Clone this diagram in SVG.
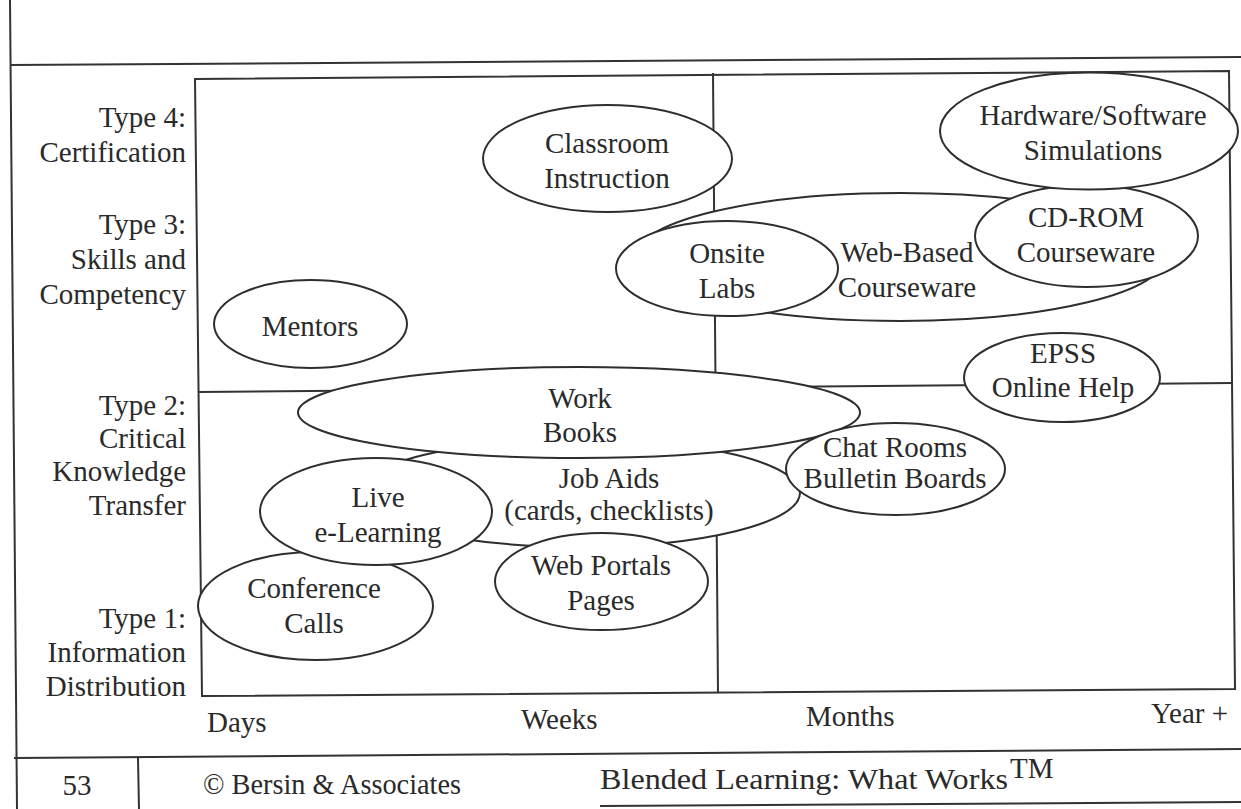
<svg xmlns="http://www.w3.org/2000/svg" width="1241" height="809" viewBox="0 0 1241 809">
<style>
  .t { font-family: "Liberation Serif", "Times New Roman", serif; font-size: 29px; fill: #2a2a2a; }
  .m { text-anchor: middle; }
  .e { text-anchor: end; }
  .n { fill: #fff; stroke: #2e2e2e; stroke-width: 2; }
  .ln { stroke: #333; stroke-width: 2; fill: none; }
</style>
<rect x="0" y="0" width="1241" height="809" fill="#fff"/>
<g id="page">
  <line class="ln" x1="10" y1="0" x2="17" y2="809"/>
  <line class="ln" x1="10" y1="65" x2="1241" y2="57" stroke-width="2.8"/>
  <line class="ln" x1="14" y1="758" x2="1241" y2="749" stroke-width="2.5"/>
  <line class="ln" x1="138" y1="758" x2="139" y2="809"/>
  <line class="ln" x1="600" y1="806" x2="1241" y2="802" stroke-width="1.5"/>
</g>
<g id="frame">
  <polygon class="ln" points="195,79 1229,71 1235,689 202,696"/>
  <line class="ln" x1="713" y1="73" x2="718" y2="693"/>
  <line class="ln" x1="198" y1="392" x2="1232" y2="383"/>
</g>
<g id="axis-labels">
  <text class="t e" x="186" y="127">Type 4:</text>
  <text class="t e" x="186" y="162">Certification</text>
  <text class="t e" x="186" y="234">Type 3:</text>
  <text class="t e" x="186" y="269">Skills and</text>
  <text class="t e" x="186" y="304">Competency</text>
  <text class="t e" x="186" y="415">Type 2:</text>
  <text class="t e" x="186" y="448">Critical</text>
  <text class="t e" x="186" y="481">Knowledge</text>
  <text class="t e" x="186" y="515">Transfer</text>
  <text class="t e" x="186" y="628">Type 1:</text>
  <text class="t e" x="186" y="662">Information</text>
  <text class="t e" x="186" y="696">Distribution</text>
  <text class="t" x="207" y="732">Days</text>
  <text class="t" x="521" y="729">Weeks</text>
  <text class="t" x="806" y="726">Months</text>
  <text class="t" x="1151" y="723">Year +</text>
</g>
<g id="web-based-courseware">
  <ellipse class="n" cx="900" cy="257" rx="265" ry="64"/>
  <text class="t m" x="907" y="262">Web-Based</text>
  <text class="t m" x="907" y="297">Courseware</text>
</g>
<g id="onsite-labs">
  <ellipse class="n" cx="727" cy="268.5" rx="111" ry="47.5"/>
  <text class="t m" x="727" y="263">Onsite</text>
  <text class="t m" x="727" y="298">Labs</text>
</g>
<g id="cd-rom-courseware">
  <ellipse class="n" cx="1086.5" cy="236" rx="111.5" ry="51"/>
  <text class="t m" x="1086" y="227">CD-ROM</text>
  <text class="t m" x="1086" y="262">Courseware</text>
</g>
<g id="hardware-software-simulations">
  <ellipse class="n" cx="1089" cy="131" rx="149" ry="58.5"/>
  <text class="t m" x="1093" y="125">Hardware/Software</text>
  <text class="t m" x="1093" y="160">Simulations</text>
</g>
<g id="classroom-instruction">
  <ellipse class="n" cx="607.5" cy="158.5" rx="124.5" ry="53.5"/>
  <text class="t m" x="607" y="153">Classroom</text>
  <text class="t m" x="607" y="188">Instruction</text>
</g>
<g id="mentors">
  <ellipse class="n" cx="310.5" cy="324" rx="96.5" ry="44"/>
  <text class="t m" x="310" y="336">Mentors</text>
</g>
<g id="epss-online-help">
  <ellipse class="n" cx="1062" cy="377.5" rx="98" ry="44.5"/>
  <text class="t m" x="1063" y="363">EPSS</text>
  <text class="t m" x="1063" y="397">Online Help</text>
</g>
<g id="job-aids">
  <ellipse class="n" cx="580" cy="493" rx="220" ry="54"/>
  <text class="t m" x="609" y="488">Job Aids</text>
  <text class="t m" x="609" y="520">(cards, checklists)</text>
</g>
<g id="work-books">
  <ellipse class="n" cx="579" cy="412.5" rx="281" ry="45.5"/>
  <text class="t m" x="580" y="408">Work</text>
  <text class="t m" x="580" y="442">Books</text>
</g>
<g id="chat-rooms-bulletin-boards">
  <ellipse class="n" cx="895.5" cy="469" rx="109.5" ry="46"/>
  <text class="t m" x="895" y="457">Chat Rooms</text>
  <text class="t m" x="895" y="488">Bulletin Boards</text>
</g>
<g id="web-portals-pages">
  <ellipse class="n" cx="601.5" cy="581.5" rx="106.5" ry="48.5"/>
  <text class="t m" x="601" y="575">Web Portals</text>
  <text class="t m" x="601" y="610">Pages</text>
</g>
<g id="conference-calls">
  <ellipse class="n" cx="315.5" cy="606" rx="117.5" ry="54"/>
  <text class="t m" x="314" y="598">Conference</text>
  <text class="t m" x="314" y="633">Calls</text>
</g>
<g id="live-e-learning">
  <ellipse class="n" cx="376" cy="511.5" rx="116" ry="53.5"/>
  <text class="t m" x="378" y="507">Live</text>
  <text class="t m" x="378" y="542">e-Learning</text>
</g>
<g id="connectors"></g>
<g id="footer">
  <text class="t m" x="77" y="795">53</text>
  <text class="t" x="203" y="794" textLength="258" lengthAdjust="spacingAndGlyphs">© Bersin &amp; Associates</text>
  <text class="t" x="600" y="789" textLength="408" lengthAdjust="spacingAndGlyphs">Blended Learning: What Works</text>
  <text class="t" x="1010" y="778" font-size="19">TM</text>
</g>
</svg>
